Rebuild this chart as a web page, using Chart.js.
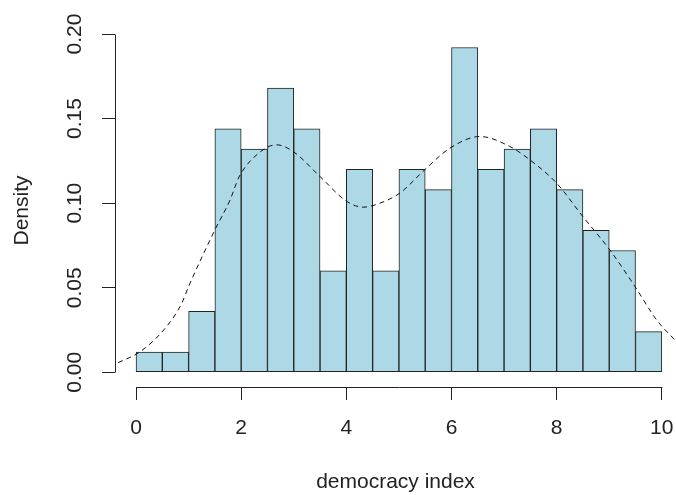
<!DOCTYPE html>
<html>
<head>
<meta charset="utf-8">
<script src="https://cdn.jsdelivr.net/npm/chart.js@4"></script>
<style>
  html, body { margin: 0; padding: 0; background: #fff; }
  #wrap { width: 676px; height: 495px; }
</style>
</head>
<body>
<div id="wrap"><canvas id="histChart" width="676" height="495"></canvas></div>
<script>
// histogram bins (width 0.5) and their density heights
var binMids = [0.25, 0.75, 1.25, 1.75, 2.25, 2.75, 3.25, 3.75, 4.25, 4.75,
               5.25, 5.75, 6.25, 6.75, 7.25, 7.75, 8.25, 8.75, 9.25, 9.75];
var binDensity = [0.012, 0.012, 0.036, 0.144, 0.132, 0.168, 0.144, 0.060, 0.120, 0.060,
                  0.120, 0.108, 0.192, 0.120, 0.132, 0.144, 0.108, 0.084, 0.072, 0.024];

// kernel density curve
var densX = [-0.34, 0.08, 0.58, 0.87, 1.0, 1.5, 1.79, 1.96, 2.35, 2.67, 2.99, 3.5, 4.01, 4.32,
             4.64, 5.02, 5.49, 5.97, 6.54, 7.11, 7.49, 8.0, 8.5, 9.01, 9.49, 9.9, 10.25];
var densY = [0.0057, 0.0122, 0.027, 0.0408, 0.0507, 0.0842, 0.102, 0.1155, 0.130, 0.1345, 0.1305,
             0.1157, 0.101, 0.0976, 0.100, 0.106, 0.1197, 0.1325, 0.1394, 0.1335, 0.1256,
             0.1118, 0.092, 0.0724, 0.0507, 0.031, 0.019];

// tick labels
var xTicks = [0, 2, 4, 6, 8, 10];
var yTicks = [0, 0.05, 0.10, 0.15, 0.20];

var ink = '#222';
Chart.defaults.font.family = '"Liberation Sans", Arial, sans-serif';
Chart.defaults.font.size = 21;
Chart.defaults.color = ink;

// R style axes: the axis line only covers the range of the ticks
var rAxes = {
    id: 'rAxes',
    afterDraw: function (chart) {
        var c = chart.ctx, a = chart.chartArea;
        var xs = chart.scales.x, ys = chart.scales.y;
        c.save();
        c.strokeStyle = ink;
        c.lineWidth = 1;
        c.beginPath();
        var by = Math.round(a.bottom) + 0.5;
        c.moveTo(Math.round(xs.getPixelForValue(xTicks[0])) + 0.5, by);
        c.lineTo(Math.round(xs.getPixelForValue(xTicks[xTicks.length - 1])) + 0.5, by);
        var lx = Math.round(a.left) + 0.5;
        c.moveTo(lx, Math.round(ys.getPixelForValue(yTicks[0])) + 0.5);
        c.lineTo(lx, Math.round(ys.getPixelForValue(yTicks[yTicks.length - 1])) + 0.5);
        c.stroke();
        c.restore();
    }
};

var ctx = document.getElementById('histChart').getContext('2d');

var histChart = new Chart(ctx, {
    data: {
        datasets: [
            {
                type: 'line',
                data: densX.map(function (x, i) { return { x: x, y: densY[i] }; }),
                borderColor: '#111',
                borderWidth: 1,
                borderDash: [5, 4],
                pointRadius: 0,
                cubicInterpolationMode: 'monotone',
                fill: false
            },
            {
                type: 'bar',
                data: binMids.map(function (x, i) { return { x: x, y: binDensity[i] }; }),
                backgroundColor: '#ADD8E6',
                borderColor: ink,
                borderWidth: 1,
                borderSkipped: false,
                barPercentage: 1,
                categoryPercentage: 1
            }
        ]
    },
    options: {
        responsive: false,
        animation: false,
        devicePixelRatio: 1,
        layout: { padding: { top: 34, right: 0, left: 0, bottom: 0 } },
        plugins: { legend: { display: false }, tooltip: { enabled: false } },
        scales: {
            x: {
                type: 'linear',
                min: -0.4,
                max: 10.27,
                offset: false,
                afterBuildTicks: function (s) { s.ticks = xTicks.map(function (v) { return { value: v }; }); },
                afterFit: function (s) { s.height = 108; s.paddingLeft = 0; s.paddingRight = 0; },
                border: { display: false },
                grid: { offset: false, drawOnChartArea: false, tickLength: 13, color: ink },
                ticks: { padding: 16, autoSkip: false, maxRotation: 0 },
                title: { display: true, text: 'democracy index', padding: { top: 0, bottom: 0 } }
            },
            y: {
                type: 'linear',
                min: -0.0087,
                max: 0.2,
                afterBuildTicks: function (s) { s.ticks = yTicks.map(function (v) { return { value: v }; }); },
                afterFit: function (s) { s.width = 115; },
                border: { display: false },
                grid: { drawOnChartArea: false, tickLength: 13, color: ink },
                ticks: {
                    minRotation: 90, maxRotation: 90, crossAlign: 'center', padding: 6, autoSkip: false,
                    callback: function (v) { return v.toFixed(2); }
                },
                title: { display: true, text: 'Density', padding: { top: 10, bottom: 0 } }
            }
        }
    },
    plugins: [rAxes]
});
</script>
</body>
</html>
